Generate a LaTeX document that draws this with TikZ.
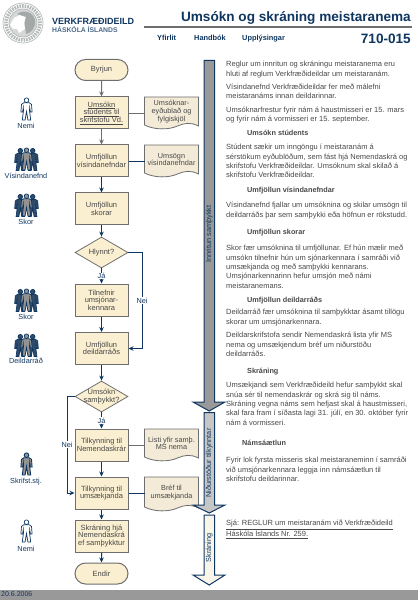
\documentclass[tikz,border=0pt]{standalone}
\usepackage{fontspec}
\setmainfont{Liberation Sans}
\usepackage{tikz}
\usetikzlibrary{positioning,arrows.meta,shapes.geometric,shapes.misc}
\definecolor{navy}{HTML}{0F3660}
\definecolor{cream}{HTML}{FAEFD0}
\definecolor{paper}{HTML}{F3EBD8}
\definecolor{edge}{HTML}{6E6E6E}
\definecolor{body}{HTML}{484848}
\definecolor{seal}{HTML}{A3A8A8}
\newcommand{\docbox}[5]{%
  \begin{scope}[shift={(#2,#3)}]
  \path[docpath] (0,0) -- (54,0) -- (54,#4-2)
    .. controls (46,#4-6) and (40,#4-5) .. (33,#4-2)
    .. controls (24,#4+2) and (10,#4+2) .. (0,#4-3) -- cycle;
  \end{scope}
  \node[doctext] (#1) at (#2+27,#3+#4/2-1) {#5};
}

\begin{document}
\begin{tikzpicture}[x=1pt,y=-1pt,
  block/.style={draw=edge,fill=cream,line width=1pt,minimum width=53pt,minimum height=32pt,inner sep=0pt,align=center,text=body,font=\fontsize{7.5}{7.6}\selectfont},
  term/.style={block,rounded rectangle,minimum height=21pt},
  choice/.style={block,diamond,aspect=1.7,minimum width=53pt,minimum height=31pt,inner sep=-5pt,line width=.8pt},
  docpath/.style={draw=edge,fill=paper,line width=.8pt},
  doctext/.style={minimum width=54pt,inner sep=0pt,align=center,text=body,font=\fontsize{7.3}{7.6}\selectfont},
  arr/.style={-{Stealth[length=5pt,width=4.5pt]},navy,line width=1pt},
  garr/.style={arr,edge},
  lbl/.style={fill=white,inner sep=.6pt,text=navy,font=\fontsize{7.3}{7.6}\selectfont},
  who/.style={text=navy,inner sep=0pt,font=\fontsize{7.3}{8}\selectfont},
  para/.style={anchor=north west,inner sep=0pt,align=left,text=body,font=\fontsize{7.5}{9.35}\selectfont},
  head/.style={anchor=west,inner sep=0pt,text=body,font=\fontsize{7.3}{9}\selectfont\bfseries},
  menu/.style={anchor=base west,inner sep=0pt,text=navy,font=\fontsize{7.4}{9}\selectfont\bfseries},
  band/.style={draw=navy,line width=1pt},
  bandtext/.style={rotate=90,inner sep=0pt,text=navy,font=\fontsize{7.3}{8}\selectfont},
  person/.pic={
    \path[pic actions] (-2.6,-6.3) -- (2.6,-6.3) -- (5,-4.6) -- (5.6,3) -- (3.9,3) -- (3.2,-1.5) -- (3,1.5) -- (4.2,11) -- (1.4,11) -- (0,2.5) -- (-1.4,11) -- (-4.2,11) -- (-3,1.5) -- (-3.2,-1.5) -- (-3.9,3) -- (-5.6,3) -- (-5,-4.6) -- cycle;
    \path[pic actions] (0,-8.8) circle[radius=2.3pt];
  },
  team/.pic={
    \pic[draw=navy,fill=navy!70!gray,line width=.7pt] at (-6.2,.5) {person};
    \pic[draw=navy,fill=navy!70!gray,line width=.7pt] at (6.2,.5) {person};
    \pic[draw=navy,fill=gray!85,line width=.7pt] at (0,0) {person};
  }
]
\useasboundingbox (0,0) rectangle (418,601);

\draw[seal!70,line width=.8pt] (23,23) circle[radius=20pt];
\draw[seal!80,line width=3.6pt,dash pattern=on 1.6pt off 1pt] (23,23) circle[radius=17pt];
\draw[seal!80,fill=seal!45,line width=.8pt] (23,23) circle[radius=14pt];
\fill[white] (10,25) -- (14,18) -- (20,15) -- (26,17) -- (24,23) -- (25,29) -- (19,33) -- (17,29) -- (13,29) -- cycle;
\fill[seal] (17,14) .. controls (24,9) and (33,12) .. (35,20) .. controls (36,28) and (31,33) .. (26,34) .. controls (25,27) and (24,22) .. (26,17) -- cycle;
\node[inner sep=0pt,anchor=west,text=navy,font=\fontsize{9}{9}\selectfont\bfseries] (dept) at (52,21) {VERKFRÆÐIDEILD};
\node[inner sep=0pt,anchor=west,text=navy!75,font=\fontsize{6.8}{8}\selectfont\bfseries] (school) at (52,30) {HÁSKÓLA ÍSLANDS};

\node[inner sep=0pt,anchor=base east,text=navy,font=\fontsize{13.6}{15}\selectfont\bfseries] (title) at (411,22) {Umsókn og skráning meistaranema};
\draw[edge,line width=2pt] (144,27.5) -- (412,27.5);
\node[menu] (yfirlit) at (157,40.5) {Yfirlit};
\node[menu] (handbok) at (194,40.5) {Handbók};
\node[menu] (upplys) at (242,40.5) {Upplýsingar};
\node[inner sep=0pt,anchor=east,text=navy,font=\fontsize{13.6}{16}\selectfont\bfseries] (number) at (411,38.5) {710-015};

\node[term] (byrjun) at (101.5,70) {Byrjun};
\node[block] (umsokn) at (101.5,113) {\underline{Umsókn}\\\underline{stúdents til}\\\underline{skrifstofu Vd.}};
\node[block] (visinda) at (101.5,161) {Umfjöllun\\vísindanefndar};
\node[block] (skorar) at (101.5,209) {Umfjöllun\\skorar};
\node[choice] (hlynnt) at (101.5,252.5) {Hlynnt?};
\node[block] (tilnefnir) at (101.5,300) {Tilnefnir\\umsjónar-\\kennara};
\node[block] (deildarrad) at (101.5,348.5) {Umfjöllun\\deildarráðs};
\node[choice] (samthykkt) at (101.5,396.5) {Umsókn\\samþykkt?};
\node[block] (nemskra) at (101.5,445) {Tilkynning til\\Nemendaskrár};
\node[block] (umsaek) at (101.5,493) {Tilkynning til\\umsækjanda};
\node[block] (skraning) at (101.5,536) {Skráning hjá\\Nemendaskrá\\ef samþykktur};
\node[term] (endir) at (101.5,573.5) {Endir};

\docbox{eydublad}{144.5}{97}{31}{Umsóknar-\\eyðublað og\\fylgiskjöl}
\docbox{umsogn}{144.5}{145}{31}{Umsögn\\vísindanefndar}
\docbox{listi}{144.5}{429}{31}{Listi yfir samþ.\\MS nema}
\docbox{bref}{144.5}{477}{33}{Bréf til\\umsækjanda}

\draw[garr] (byrjun) -- (umsokn);
\draw[garr] (umsokn) -- (visinda);
\draw[arr] (visinda) -- (skorar);
\draw[arr] (skorar) -- (hlynnt);
\draw[arr] (hlynnt) -- node[lbl] (ja1) {Já} (tilnefnir);
\draw[arr] (tilnefnir) -- (deildarrad);
\draw[arr] (deildarrad) -- (samthykkt);
\draw[arr] (samthykkt) -- node[lbl] (ja2) {Já} (nemskra);
\draw[arr] (nemskra) -- (umsaek);
\draw[arr] (umsaek) -- (skraning);
\draw[arr] (skraning) -- (endir);
\draw[arr] (hlynnt.east) -- (142,252.5) |- node[lbl,pos=.25] (nei1) {Nei} (deildarrad.east);
\draw[arr] (samthykkt.west) -- (67,396.5) |- node[lbl,pos=.25] (nei2) {Nei} (umsaek.west);
\draw[edge,line width=.8pt] (umsokn.east) -- (144.5,113);
\draw[navy,line width=.8pt] (visinda.east) -- (144.5,161);
\draw[edge,line width=.8pt] (nemskra.east) -- (144.5,445);
\draw[navy,line width=.8pt] (umsaek.east) -- (144.5,493);

\pic[draw=navy,fill=white,line width=.7pt] at (26.5,109) {person};
\node[who] (nemi1) at (26,126) {Nemi};
\pic at (26.5,159) {team};
\node[who] (visnef) at (26,175.5) {Vísindanefnd};
\pic at (26.5,205) {team};
\node[who] (skor1) at (26,222) {Skor};
\pic at (26.5,300) {team};
\node[who] (skor2) at (26,317) {Skor};
\pic at (26.5,345) {team};
\node[who] (deildr) at (26,361) {Deildarráð};
\pic[draw=navy,fill=gray!85,line width=.9pt] at (26.5,464) {person};
\node[who] (skrifst) at (26,482) {Skrifst.stj.};
\pic[draw=navy,fill=white,line width=.7pt] at (26.5,531) {person};
\node[who] (nemi2) at (26,549) {Nemi};

\path[band,fill=gray!80] (204,60.5) -- (214.5,60.5) -- (214.5,402) -- (225,402) -- (209.2,411) -- (193,402) -- (204,402) -- cycle;
\path[band,fill=gray!45] (204,412.5) -- (214.5,412.5) -- (214.5,505) -- (225,505) -- (209.2,513) -- (193,505) -- (204,505) -- cycle;
\path[band,fill=paper!50] (204,515) -- (214.5,515) -- (214.5,575) -- (225,575) -- (209.2,585) -- (193,575) -- (204,575) -- cycle;
\node[bandtext] (bandinn) at (209.2,234) {Innritun samþykkt};
\node[bandtext] (bandnid) at (209.2,463) {Niðurstöður tilkynntar};
\node[bandtext] (bandskr) at (209.2,548) {Skráning};

\node[para] (p1) at (226,61) {Reglur um innritun og skráningu meistaranema eru\\hluti af reglum Verkfræðideildar um meistaranám.};
\node[para] (p2) at (226,83.5) {Vísindanefnd Verkfræðideildar fer með málefni\\meistaranáms innan deildarinnar.};
\node[para] (p3) at (226,106.5) {Umsóknarfrestur fyrir nám á haustmisseri er 15. mars\\og fyrir nám á vormisseri er 15. september.};
\node[head] (h1) at (247,133) {Umsókn stúdents};
\node[para] (p4) at (226,144) {Stúdent sækir um inngöngu í meistaranám á\\sérstökum eyðublöðum, sem fást hjá Nemendaskrá og\\skrifstofu Verkfræðideildar. Umsóknum skal skilað á\\skrifstofu Verkfræðideildar.};
\node[head] (h2) at (247,191) {Umfjöllun vísindanefndar};
\node[para] (p5) at (226,202) {Vísindanefnd fjallar um umsóknina og skilar umsögn til\\deildarráðs þar sem samþykki eða höfnun er rökstudd.};
\node[head] (h3) at (247,233) {Umfjöllun skorar};
\node[para] (p6) at (226,245) {Skor fær umsóknina til umfjöllunar. Ef hún mælir með\\umsókn tilnefnir hún um sjónarkennara í samráði við\\umsækjanda og með samþykki kennarans.\\Umsjónarkennarinn hefur umsjón með námi\\meistaranemans.};
\node[head] (h4) at (247,301) {Umfjöllun deildarráðs};
\node[para] (p7) at (226,309) {Deildarráð fær umsóknina til samþykktar ásamt tillögu\\skorar um umsjónarkennara.};
\node[para] (p8) at (226,332) {Deildarskrifstofa sendir Nemendaskrá lista yfir MS\\nema og umsækjendum bréf um niðurstöðu\\deildarráðs.};
\node[head] (h5) at (247,372) {Skráning};
\node[para] (p9) at (226,382) {Umsækjandi sem Verkfræðideild hefur samþykkt skal\\snúa sér til nemendaskrár og skrá sig til náms.\\Skráning vegna náms sem hefjast skal á haustmisseri,\\skal fara fram í síðasta lagi 31. júlí, en 30. október fyrir\\nám á vormisseri.};
\node[head] (h6) at (242,443) {Námsáætlun};
\node[para] (p10) at (226,457) {Fyrir lok fyrsta misseris skal meistaraneminn í samráði\\við umsjónarkennara leggja inn námsáætlun til\\skrifstofu deildarinnar.};
\node[para] (p11) at (226,520) {\underline{Sjá: REGLUR um meistaranám við Verkfræðideild}\\\underline{Háskóla Íslands Nr. 259.}};

\fill[gray!80] (0,590) rectangle (418,600);
\node[inner sep=0pt,anchor=west,text=navy,font=\fontsize{7}{8}\selectfont] (date) at (1,594.5) {20.6.2006};
\end{tikzpicture}
\end{document}
